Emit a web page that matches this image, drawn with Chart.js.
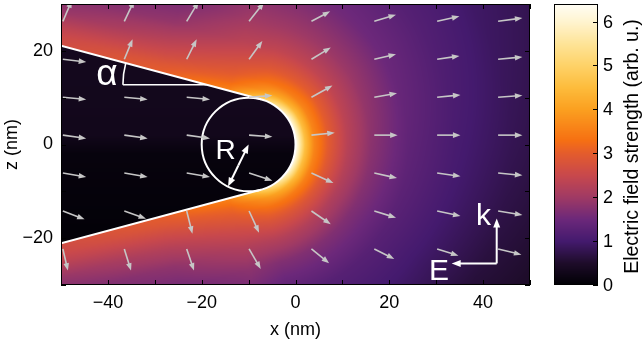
<!DOCTYPE html>
<html>
<head>
<meta charset="utf-8">
<script src="https://cdn.jsdelivr.net/npm/chart.js@4.4.1/dist/chart.umd.min.js"></script>
<style>
  html, body { margin: 0; padding: 0; background: #fff; }
</style>
</head>
<body>
<canvas id="fieldChart" width="644" height="341"></canvas>
<script>
// tip geometry (nm, degrees)
const tipRadius = 10;
const tipCenterX = -10;
const coneHalfAngle = 15;

// field strength, along the tip surface (s, nm, + is upper side)
// and going away from it (d, nm)
const surfS = [-60, -35, -20, -13, -6, 0, 6, 13, 20, 35, 60];
const surfD = [0, 1, 2, 4, 7, 11, 16, 24, 34, 46, 60];
const fieldE = [
  [2.6, 2.55, 2.5, 2.3, 1.9, 1.6, 1.4, 1.2, 1.0, 0.8, 0.6],
  [3.0, 2.95, 2.85, 2.6, 2.25, 1.85, 1.55, 1.25, 1.0, 0.8, 0.6],
  [3.6, 3.4, 3.2, 2.95, 2.6, 2.2, 1.8, 1.4, 1.05, 0.8, 0.6],
  [5.0, 4.3, 3.8, 3.3, 2.8, 2.25, 1.7, 1.2, 0.95, 0.72, 0.5],
  [6.2, 5.4, 4.5, 3.55, 2.85, 2.2, 1.7, 1.25, 0.95, 0.6, 0.38],
  [6.4, 5.6, 4.6, 3.6, 2.95, 2.3, 1.8, 1.35, 1.05, 0.8, 0.58],
  [6.2, 5.4, 4.5, 3.6, 3.0, 2.4, 1.95, 1.5, 1.2, 0.95, 0.8],
  [5.0, 4.3, 3.8, 3.3, 2.85, 2.4, 2.0, 1.6, 1.3, 1.05, 0.85],
  [3.6, 3.4, 3.2, 2.95, 2.65, 2.3, 2.0, 1.65, 1.35, 1.1, 0.9],
  [3.0, 2.95, 2.85, 2.6, 2.3, 1.9, 1.6, 1.4, 1.2, 1.0, 0.8],
  [2.6, 2.55, 2.5, 2.3, 1.9, 1.65, 1.45, 1.3, 1.1, 0.95, 0.8]
];
// inside the tip, by height z
const insideZ = [-30, -12, -2, 2, 30];
const insideE = [0.0, 0.08, 0.12, 0.3, 0.36];

// colour scale
const cmapV = [0, 0.5, 1.0, 1.5, 2.0, 2.5, 3.0, 3.3, 4.0, 4.5, 5.0, 5.5, 6.0, 6.4];
const cmapRGB = [
  [0, 0, 4], [30, 12, 42], [68, 26, 110], [108, 40, 122], [160, 58, 100], [200, 72, 76],
  [228, 92, 44], [246, 112, 18], [251, 160, 32], [253, 188, 60], [254, 210, 104],
  [254, 228, 152], [255, 244, 208], [255, 253, 245]
];

// quiver: tails on a grid, components in nm
const arrowX = [-49.6, -36.5, -23.2, -9.9, 3.4, 16.8, 30.2, 43.2];
const arrowZ = [26.3, 18.2, 10.1, 2.0, -6.1, -14.2, -22.3];
const arrowU = [
  [1.92, 2.13, 2.56, 3.20, 3.99, 4.63, 4.75, 5.18],
  [4.97, 1.77, 2.13, 2.84, 4.12, 4.63, 4.75, 5.18],
  [4.97, 4.97, 4.97, 4.97, 4.48, 4.84, 4.97, 5.18],
  [4.97, 4.97, 4.97, 4.97, 4.97, 4.97, 4.97, 5.18],
  [4.97, 4.97, 4.97, 4.97, 4.69, 4.84, 4.97, 5.18],
  [4.63, 4.63, 1.22, 2.13, 4.12, 4.63, 4.97, 5.18],
  [1.07, 1.43, 1.56, 2.49, 3.77, 4.26, 4.54, 4.97]
];
const arrowW = [
  [4.48, 4.48, 4.27, 4.06, 2.14, 1.43, 1.07, 0.70],
  [-0.58, 4.27, 4.27, 3.91, 2.50, 1.07, 0.70, 0.49],
  [-0.49, -0.49, -0.49, 0.36, 2.50, 0.85, 0.49, 0.36],
  [-0.70, -0.70, -0.70, -0.36, 0.49, 0, 0, 0],
  [-0.85, -0.85, -0.85, -1.64, -2.14, -1.07, -0.70, -0.49],
  [-1.77, -1.64, -4.85, -4.63, -2.84, -1.43, -1.07, -0.85],
  [-4.63, -4.63, -4.63, -4.27, -3.05, -2.14, -1.43, -1.22]
];

const FONT = '"Liberation Sans", Arial, Helvetica, sans-serif';
const alphaRad = coneHalfAngle * Math.PI / 180;
const phiT = Math.PI / 2 - alphaRad;

// (s, d) of a point relative to the tip surface
function tipCoords(x, z) {
  const dx = x - tipCenterX, rho = Math.hypot(dx, z);
  const phi = Math.atan2(Math.abs(z), dx);
  const sg = z < 0 ? -1 : 1;
  if (phi <= phiT) return [sg * tipRadius * phi, rho - tipRadius];
  return [sg * (tipRadius * phiT + rho * Math.sin(phi - phiT)), rho * Math.cos(phi - phiT) - tipRadius];
}

function locate(arr, v) {
  const n = arr.length;
  if (v <= arr[0]) return [0, 0];
  if (v >= arr[n - 1]) return [n - 2, 1];
  let i = 0;
  while (v > arr[i + 1]) i++;
  return [i, (v - arr[i]) / (arr[i + 1] - arr[i])];
}

function fieldAt(x, z) {
  const [s, d] = tipCoords(x, z);
  if (d < 0) {
    const [k, f] = locate(insideZ, z);
    return insideE[k] + f * (insideE[k + 1] - insideE[k]);
  }
  const [i, fi] = locate(surfS, s);
  const [j, fj] = locate(surfD, d);
  const a = fieldE[i][j] + fj * (fieldE[i][j + 1] - fieldE[i][j]);
  const b = fieldE[i + 1][j] + fj * (fieldE[i + 1][j + 1] - fieldE[i + 1][j]);
  return a + fi * (b - a);
}

function colorFor(v) {
  const [k, f] = locate(cmapV, v);
  const c0 = cmapRGB[k], c1 = cmapRGB[k + 1];
  return [0, 1, 2].map(n => Math.round(c0[n] + f * (c1[n] - c0[n])));
}

function coneZ(x) {
  const tx = tipCenterX + tipRadius * Math.sin(alphaRad);
  return tipRadius * Math.cos(alphaRad) + Math.tan(alphaRad) * (tx - x);
}

function head(ctx, x0, y0, x1, y1, len, half) {
  const ang = Math.atan2(y1 - y0, x1 - x0), c = Math.cos(ang), s = Math.sin(ang);
  ctx.beginPath();
  ctx.moveTo(x0, y0);
  ctx.lineTo(x1 - len * 0.6 * c, y1 - len * 0.6 * s);
  ctx.stroke();
  ctx.beginPath();
  ctx.moveTo(x1, y1);
  ctx.lineTo(x1 - len * c + half * s, y1 - len * s - half * c);
  ctx.lineTo(x1 - len * c - half * s, y1 - len * s + half * c);
  ctx.closePath();
  ctx.fill();
}

const fmt = v => (v < 0 ? '\u2212' + (-v) : String(v));

const heatmap = {
  id: 'heatmap',
  beforeDatasetsDraw(chart) {
    const { ctx, chartArea: a, scales: { x, y } } = chart;
    const w = Math.round(a.right - a.left), h = Math.round(a.bottom - a.top);
    const off = document.createElement('canvas');
    off.width = w; off.height = h;
    const octx = off.getContext('2d');
    const img = octx.createImageData(w, h);
    for (let j = 0; j < h; j++) {
      const zv = y.getValueForPixel(a.top + j + 0.5);
      for (let i = 0; i < w; i++) {
        const xv = x.getValueForPixel(a.left + i + 0.5);
        const c = colorFor(fieldAt(xv, zv));
        const p = (j * w + i) * 4;
        img.data[p] = c[0]; img.data[p + 1] = c[1]; img.data[p + 2] = c[2]; img.data[p + 3] = 255;
      }
    }
    octx.putImageData(img, 0, 0);
    ctx.drawImage(off, a.left, a.top);
  }
};

const overlay = {
  id: 'overlay',
  afterDatasetsDraw(chart) {
    const { ctx, chartArea: a, scales: { x, y } } = chart;
    const px = v => x.getPixelForValue(v), py = v => y.getPixelForValue(v);
    ctx.save();
    ctx.beginPath();
    ctx.rect(a.left, a.top, a.right - a.left, a.bottom - a.top);
    ctx.clip();

    // tip outline
    const tx = tipCenterX + tipRadius * Math.sin(alphaRad);
    ctx.strokeStyle = '#fff';
    ctx.lineWidth = 2;
    ctx.beginPath();
    ctx.moveTo(px(-50), py(coneZ(-50)));
    ctx.lineTo(px(tx), py(coneZ(tx)));
    ctx.moveTo(px(-50), py(-coneZ(-50)));
    ctx.lineTo(px(tx), py(-coneZ(tx)));
    ctx.stroke();
    ctx.beginPath();
    ctx.ellipse(px(tipCenterX), py(0), px(tipRadius) - px(0), py(0) - py(tipRadius), 0, 0, Math.PI * 2);
    ctx.stroke();

    // quiver
    const meta = chart.getDatasetMeta(0);
    ctx.strokeStyle = '#c6c6c6';
    ctx.fillStyle = '#c6c6c6';
    ctx.lineWidth = 1.6;
    meta.data.forEach((el, k) => {
      const r = Math.floor(k / arrowX.length), c = k % arrowX.length;
      const x1 = px(arrowX[c] + arrowU[r][c]), y1 = py(arrowZ[r] + arrowW[r][c]);
      head(ctx, el.x, el.y, x1, y1, 7.5, 2.8);
    });

    // angle mark
    const mz = 12.75;
    const vx = tx - (mz - tipRadius * Math.cos(alphaRad)) / Math.tan(alphaRad);
    const x0 = -36.8;
    ctx.strokeStyle = '#fff';
    ctx.fillStyle = '#fff';
    ctx.lineWidth = 1.6;
    ctx.beginPath();
    ctx.moveTo(px(x0), py(mz));
    ctx.lineTo(px(vx), py(mz));
    ctx.stroke();
    ctx.beginPath();
    ctx.arc(px(vx), py(mz), px(vx) - px(x0), Math.PI, Math.PI + alphaRad);
    ctx.stroke();

    // radius arrow
    ctx.lineWidth = 2;
    const ra = -116 * Math.PI / 180;
    const cx = px(tipCenterX), cy = py(0);
    const ex = px(tipCenterX + tipRadius * Math.cos(ra)), ey = py(tipRadius * Math.sin(ra));
    const mx = (cx + ex) / 2, my = (cy + ey) / 2;
    head(ctx, mx, my, cx, cy, 9, 3.5);
    head(ctx, mx, my, ex, ey, 9, 3.5);

    // k / E
    const kx = 42.9, kz = -25.4;
    head(ctx, px(kx), py(kz), px(kx), py(-15.8), 9, 3.5);
    head(ctx, px(kx), py(kz), px(33.3), py(kz), 9, 3.5);

    ctx.textAlign = 'center';
    ctx.textBaseline = 'alphabetic';
    ctx.font = '30px ' + FONT;
    ctx.fillText('k', px(40.1), py(-17.2));
    ctx.fillText('E', px(30.6), py(-28.9));
    ctx.font = '28px ' + FONT;
    ctx.fillText('R', px(-14.9), py(-3.1));
    ctx.font = '37px ' + FONT;
    ctx.fillText('\u03b1', px(-40.2), py(12.6));
    ctx.restore();
  }
};

const frame = {
  id: 'frame',
  afterDraw(chart) {
    const { ctx, chartArea: a, scales: { x, y, cb } } = chart;
    ctx.save();
    ctx.strokeStyle = '#000';
    ctx.lineWidth = 1;
    ctx.strokeRect(a.left + 0.5, a.top + 0.5, a.right - a.left - 1, a.bottom - a.top - 1);
    ctx.beginPath();
    x.ticks.forEach(t => {
      const p = Math.round(x.getPixelForValue(t.value)) + 0.5;
      ctx.moveTo(p, a.bottom); ctx.lineTo(p, a.bottom - 5);
      ctx.moveTo(p, a.top); ctx.lineTo(p, a.top + 5);
    });
    y.ticks.forEach(t => {
      const p = Math.round(y.getPixelForValue(t.value)) + 0.5;
      ctx.moveTo(a.left, p); ctx.lineTo(a.left + 5, p);
      ctx.moveTo(a.right, p); ctx.lineTo(a.right - 5, p);
    });
    ctx.stroke();

    // colour bar
    const l = cb.left + 24, r = cb.left + 68;
    for (let p = Math.round(a.top); p < Math.round(a.bottom); p++) {
      const c = colorFor(cb.getValueForPixel(p + 0.5));
      ctx.fillStyle = 'rgb(' + c.join(',') + ')';
      ctx.fillRect(l, p, r - l, 1);
    }
    ctx.strokeRect(l + 0.5, a.top + 0.5, r - l - 1, a.bottom - a.top - 1);
    ctx.beginPath();
    cb.ticks.forEach(t => {
      const p = Math.round(cb.getPixelForValue(t.value)) + 0.5;
      ctx.moveTo(r, p); ctx.lineTo(r - 5, p);
    });
    ctx.stroke();

    ctx.fillStyle = '#000';
    ctx.font = '18px ' + FONT;
    ctx.textAlign = 'left';
    ctx.textBaseline = 'middle';
    cb.ticks.forEach(t => {
      ctx.fillText(String(t.value), r + 5, cb.getPixelForValue(t.value) + 1);
    });

    ctx.font = '19.5px ' + FONT;
    ctx.textAlign = 'center';
    ctx.translate(cb.left + 103, (a.top + a.bottom) / 2 + 2);
    ctx.rotate(-Math.PI / 2);
    ctx.fillText('Electric field strength (arb. u.)', 0, 0);
    ctx.restore();
  }
};

const tails = [];
arrowZ.forEach(z => arrowX.forEach(x => tails.push({ x: x, y: z })));

new Chart(document.getElementById('fieldChart'), {
  type: 'scatter',
  data: { datasets: [{ data: tails, pointRadius: 0 }] },
  options: {
    animation: false,
    responsive: false,
    layout: { padding: { top: 4, left: 0, right: 0, bottom: 0 } },
    plugins: { legend: { display: false }, tooltip: { enabled: false } },
    scales: {
      x: {
        type: 'linear', min: -50, max: 50,
        grid: { display: false, drawTicks: false },
        border: { display: false },
        ticks: {
          stepSize: 10, autoSkip: false, maxRotation: 0, padding: 7, color: '#000',
          font: { family: FONT, size: 18 },
          callback: v => (v % 20 === 0 ? fmt(v) : '')
        },
        title: { display: true, text: 'x (nm)', color: '#000', font: { family: FONT, size: 18 }, padding: { top: 4, bottom: 0 } },
        afterFit: s => { s.height = 56; s.paddingLeft = 0; s.paddingRight = 0; }
      },
      y: {
        type: 'linear', min: -30, max: 30,
        grid: { display: false, drawTicks: false },
        border: { display: false },
        ticks: {
          stepSize: 10, autoSkip: false, padding: 8, color: '#000',
          font: { family: FONT, size: 18 },
          callback: v => (v % 20 === 0 ? fmt(v) : '')
        },
        title: { display: true, text: 'z (nm)', color: '#000', font: { family: FONT, size: 18 }, padding: { top: 1, bottom: 0 } },
        afterFit: s => { s.width = 61; s.paddingTop = 0; s.paddingBottom = 0; }
      },
      cb: {
        type: 'linear', position: 'right', min: 0, max: 6.4,
        grid: { display: false, drawTicks: false },
        border: { display: false },
        ticks: { display: false, stepSize: 1, includeBounds: false },
        afterFit: s => { s.width = 114; s.paddingTop = 0; s.paddingBottom = 0; }
      }
    }
  },
  plugins: [heatmap, overlay, frame]
});
</script>
</body>
</html>
